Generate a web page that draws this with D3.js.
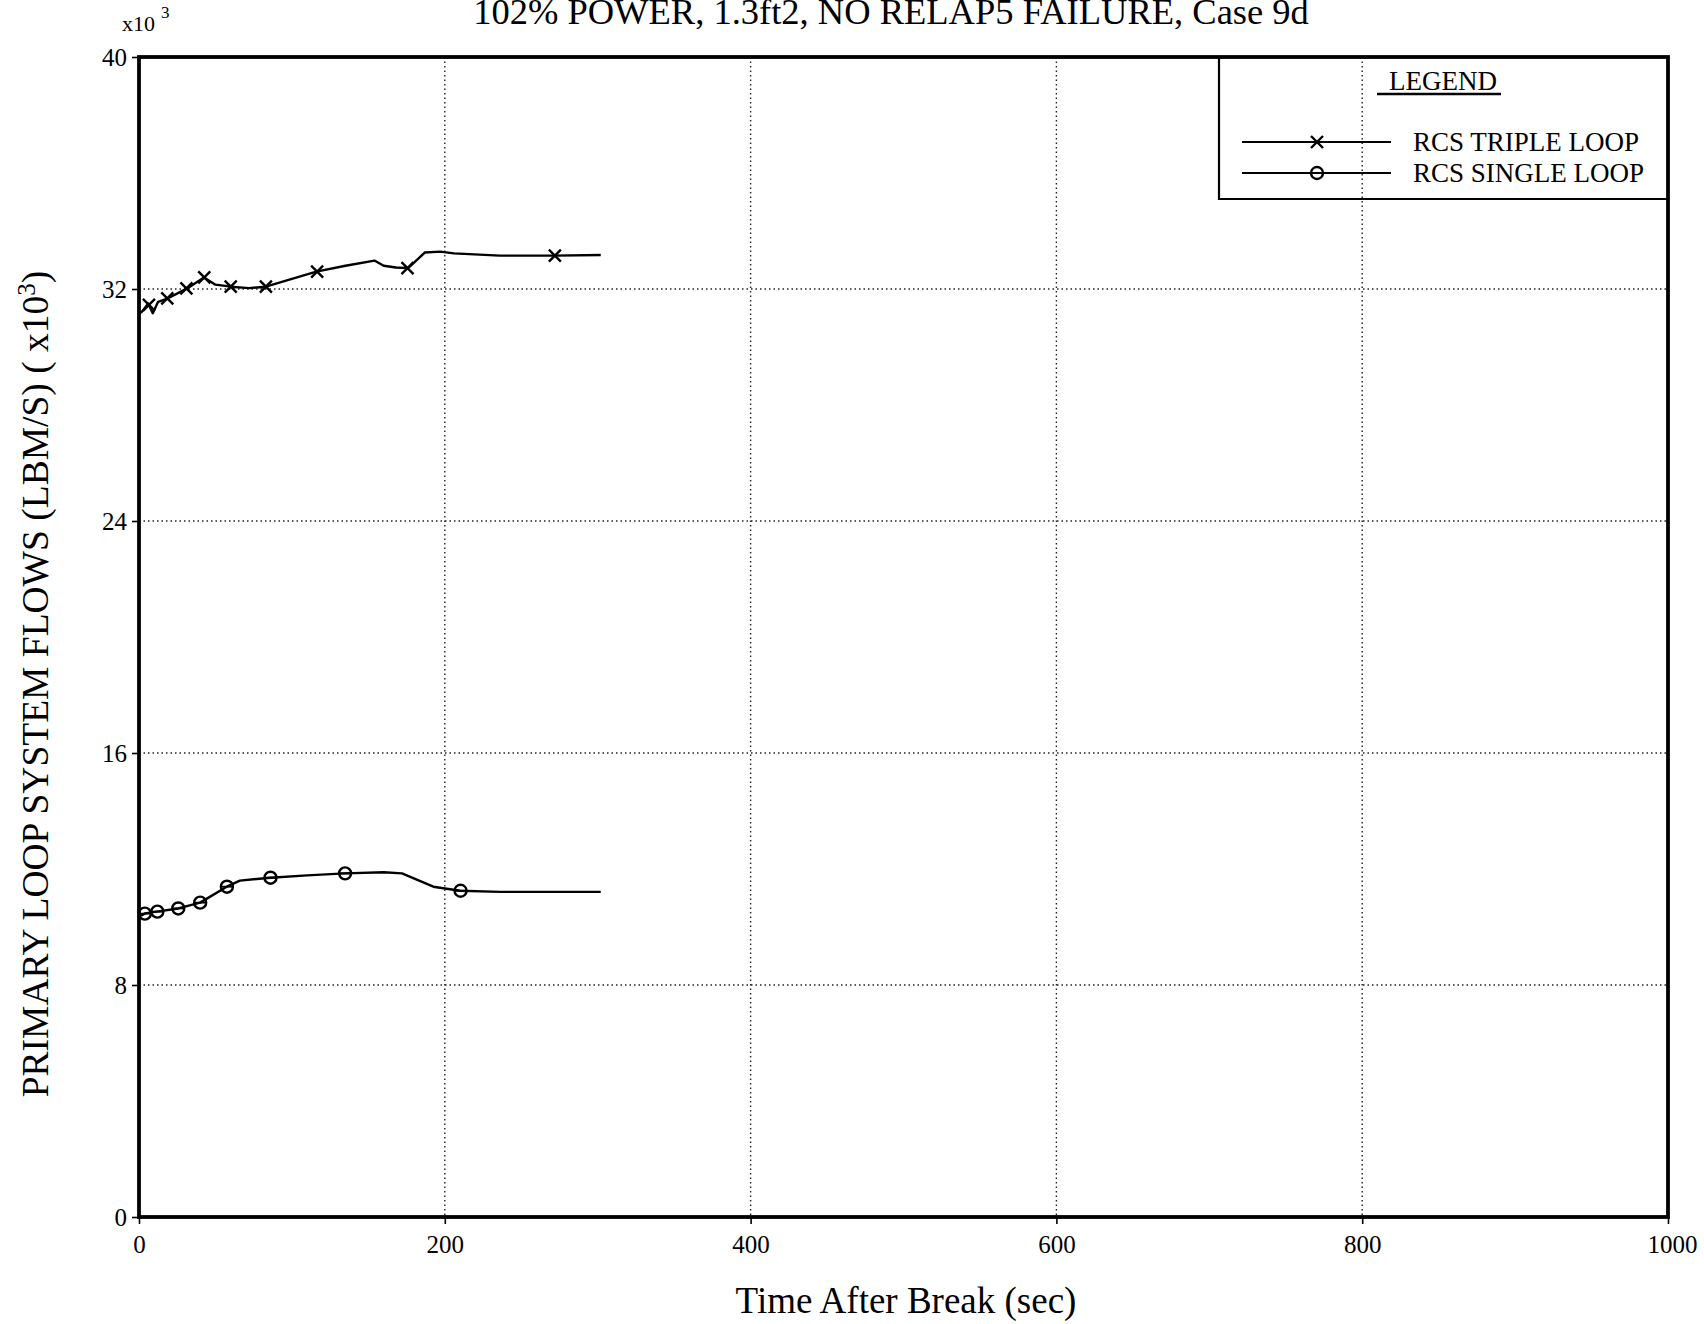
<!DOCTYPE html>
<html>
<head>
<meta charset="utf-8">
<script src="https://cdn.jsdelivr.net/npm/d3@7"></script>
<style>
  html, body { margin: 0; padding: 0; background: #fff; }
  svg { display: block; }
  text { font-family: "Liberation Serif", "Times New Roman", serif; fill: #000; }
</style>
</head>
<body>
<svg id="chart" width="1704" height="1324"></svg>
<script>
// ---- data (flow in thousands of lbm/s) ----
const titleText = "102% POWER, 1.3ft2, NO RELAP5 FAILURE, Case 9d";
const xLabel = "Time After Break (sec)";
const yLabel = "PRIMARY LOOP SYSTEM FLOWS (LBM/S)  ( x10";
const xTicks = [0, 200, 400, 600, 800, 1000];
const yTicks = [0, 8, 16, 24, 32, 40];
const seriesNames = ["RCS TRIPLE LOOP", "RCS SINGLE LOOP"];

const tripleTime  = [0, 2, 6, 9, 12.5, 19, 31.5, 42.5, 50, 60, 72, 83, 100, 116, 135, 154, 160, 168, 176, 187, 197, 206, 236, 272, 302];
const tripleFlow  = [31.15, 31.22, 31.5, 31.16, 31.56, 31.68, 32.02, 32.40, 32.15, 32.08, 32.03, 32.08, 32.35, 32.6, 32.8, 32.98, 32.8, 32.74, 32.72, 33.26, 33.29, 33.23, 33.15, 33.15, 33.17];
const tripleMarkT = [6.5, 18.5, 31, 42.7, 60, 83, 116.5, 175.6, 272];
const tripleMarkV = [31.45, 31.68, 32.02, 32.40, 32.08, 32.08, 32.6, 32.72, 33.15];

const singleTime  = [0, 2, 4, 11.6, 25.7, 40, 57.4, 66, 86, 110, 134.7, 160, 172, 192.5, 210, 236, 302];
const singleFlow  = [10.38, 10.41, 10.47, 10.53, 10.64, 10.84, 11.39, 11.6, 11.7, 11.78, 11.85, 11.89, 11.85, 11.39, 11.25, 11.21, 11.21];
const singleMarkT = [3.8, 12, 25.7, 40, 57.5, 86, 134.8, 210.3];
const singleMarkV = [10.46, 10.53, 10.64, 10.84, 11.39, 11.7, 11.85, 11.25];

// ---- layout ----
const svg = d3.select("#chart");
const L = 139, R = 1668, T = 57, B = 1217;
const x = d3.scaleLinear().domain([0, 1000]).range([L, R]);
const y = d3.scaleLinear().domain([0, 40]).range([B, T]);

// grid
const grid = svg.append("g");
grid.selectAll(".vg").data(xTicks.slice(1, -1)).enter().append("line")
  .attr("x1", d => x(d)).attr("x2", d => x(d)).attr("y1", T).attr("y2", B)
  .attr("stroke", "#222").attr("stroke-width", 1.4).attr("stroke-dasharray", "1.5,3");
grid.selectAll(".hg").data(yTicks.slice(1, -1)).enter().append("line")
  .attr("x1", L).attr("x2", R).attr("y1", d => y(d)).attr("y2", d => y(d))
  .attr("stroke", "#222").attr("stroke-width", 1.4).attr("stroke-dasharray", "1.5,3");

// axes
const xAxis = d3.axisBottom(x).tickValues(xTicks).tickSize(7).tickPadding(8).tickFormat(d3.format("d"));
const yAxis = d3.axisLeft(y).tickValues(yTicks).tickSize(7).tickPadding(5).tickFormat(d3.format("d"));
const gx = svg.append("g").attr("transform", `translate(0,${B})`).call(xAxis);
const gy = svg.append("g").attr("transform", `translate(${L},0)`).call(yAxis);
[gx, gy].forEach(g => {
  g.select(".domain").remove();
  g.selectAll(".tick line").attr("stroke", "#000").attr("stroke-width", 1.6);
  g.selectAll(".tick text").style("font-family", "Liberation Serif").style("font-size", "25px").attr("fill", "#000");
});
gx.selectAll(".tick text").attr("dy", "0.85em");
gx.selectAll(".tick text").filter(d => d === 1000).attr("dx", "4px");

// frame
svg.append("rect").attr("x", L).attr("y", T).attr("width", R - L).attr("height", B - T)
  .attr("fill", "none").attr("stroke", "#000").attr("stroke-width", 3.8);

// lines
const line = d3.line().x(d => x(d[0])).y(d => y(d[1]));
const triple = tripleTime.map((t, i) => [t, tripleFlow[i]]);
const single = singleTime.map((t, i) => [t, singleFlow[i]]);
svg.append("path").datum(triple).attr("d", line).attr("fill", "none").attr("stroke", "#000").attr("stroke-width", 2.4).attr("stroke-linejoin", "round");
svg.append("path").datum(single).attr("d", line).attr("fill", "none").attr("stroke", "#000").attr("stroke-width", 2.4).attr("stroke-linejoin", "round");

const xm = 6;
function drawX(g, cx, cy) {
  g.append("path").attr("d", `M${cx - xm},${cy - xm}L${cx + xm},${cy + xm}M${cx - xm},${cy + xm}L${cx + xm},${cy - xm}`)
    .attr("stroke", "#000").attr("stroke-width", 2.4).attr("fill", "none");
}
function drawO(g, cx, cy) {
  g.append("circle").attr("cx", cx).attr("cy", cy).attr("r", 6)
    .attr("stroke", "#000").attr("stroke-width", 2.4).attr("fill", "none");
  g.append("line").attr("x1", cx - 6).attr("x2", cx + 6).attr("y1", cy).attr("y2", cy)
    .attr("stroke", "#000").attr("stroke-width", 1.8);
}
const mk = svg.append("g");
tripleMarkT.forEach((t, i) => drawX(mk, x(t), y(tripleMarkV[i])));
singleMarkT.forEach((t, i) => drawO(mk, x(t), y(singleMarkV[i])));

// legend
const lg = svg.append("g");
const lx0 = 1219, ly1 = 199;
lg.append("path").attr("d", `M${lx0},${T}V${ly1}H${R}`).attr("fill", "none").attr("stroke", "#000").attr("stroke-width", 2.2);
lg.append("text").attr("x", 1443).attr("y", 90).attr("text-anchor", "middle").style("font-size", "27px").text("LEGEND");
lg.append("line").attr("x1", 1377).attr("x2", 1501).attr("y1", 94).attr("y2", 94).attr("stroke", "#000").attr("stroke-width", 2.4);
const legY = [142, 173];
seriesNames.forEach((name, i) => {
  lg.append("line").attr("x1", 1242).attr("x2", 1391).attr("y1", legY[i]).attr("y2", legY[i]).attr("stroke", "#000").attr("stroke-width", 2.2);
  if (i === 0) drawX(lg, 1317, legY[i]); else drawO(lg, 1317, legY[i]);
  lg.append("text").attr("x", 1413).attr("y", legY[i] + 9).style("font-size", "27px").text(name);
});

// title
svg.append("text").attr("x", 891).attr("y", 24).attr("text-anchor", "middle").style("font-size", "36.5px").text(titleText);

// x10^3 multiplier
const mult = svg.append("text").attr("x", 122).attr("y", 31).style("font-size", "22px");
mult.append("tspan").text("x10");
mult.append("tspan").attr("dx", 6).attr("dy", -13).style("font-size", "17px").text("3");

// axis titles
svg.append("text").attr("x", 906).attr("y", 1313).attr("text-anchor", "middle").style("font-size", "37px").text(xLabel);
const yl = svg.append("text").attr("transform", "translate(48,684) rotate(-90)").attr("text-anchor", "middle").style("font-size", "37.5px");
yl.append("tspan").text(yLabel);
yl.append("tspan").attr("dy", -13).style("font-size", "25px").text("3");
yl.append("tspan").attr("dy", 13).text(")");
</script>
</body>
</html>
